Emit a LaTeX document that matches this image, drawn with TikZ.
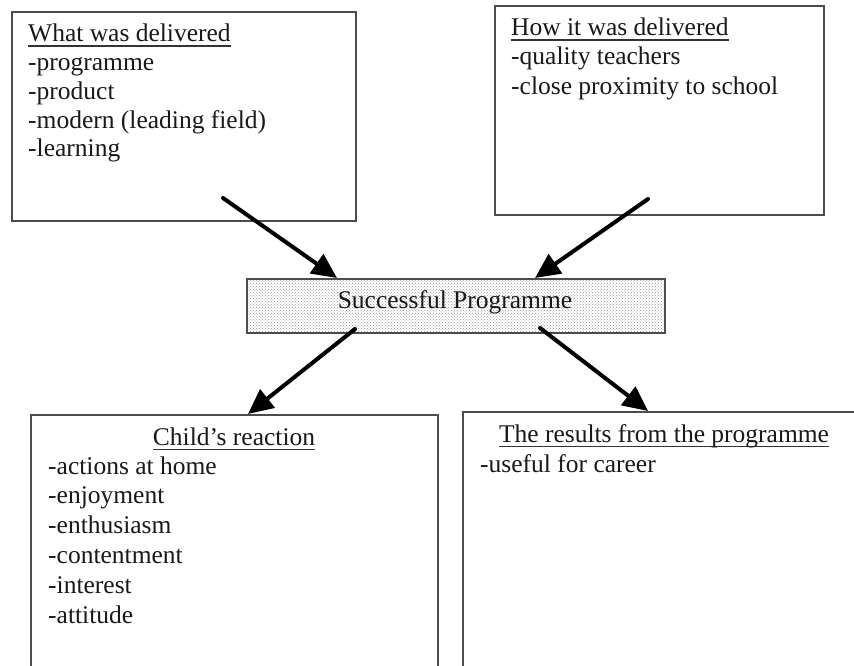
\documentclass[tikz,border=0pt]{standalone}
\usepackage{fontspec}
\setmainfont{Liberation Serif}
\usetikzlibrary{arrows.meta,patterns,calc}
\newcommand\myul[1]{\setbox0\hbox{#1}\rlap{\color{black!80}\rule[-4.8pt]{\wd0}{1.3pt}}\box0}
\begin{document}
\begin{tikzpicture}[x=1pt,y=-1pt,
  box/.style={draw=black!70, line width=1.6pt, rectangle, inner sep=0pt, anchor=north west},
  txt/.style={anchor=base west, inner sep=0pt, font=\fontsize{25.5}{29}\selectfont, text=black!90},
  ctxt/.style={anchor=base, inner sep=0pt, font=\fontsize{25.5}{29}\selectfont, text=black!90},
  conn/.style={line width=4pt, line cap=round, -{Triangle[length=25pt,width=23pt]}}]
\useasboundingbox (0,0) rectangle (854,666);
\clip (0,0) rectangle (854,666);

% boxes
\node[box, minimum width=344pt, minimum height=209pt] (what) at (11,11) {};
\node[box, minimum width=329pt, minimum height=209pt] (how) at (494,5) {};
\node[box, minimum width=418pt, minimum height=54pt,
      preaction={fill=white}, pattern=crosshatch dots, pattern color=black!40] (succ) at (246,278) {};
\node[box, minimum width=407pt, minimum height=300pt] (child) at (30,414) {};
\node[box, minimum width=440pt, minimum height=300pt] (res) at (462,411) {};

% texts: what was delivered
\node[txt] (w0) at (28,42) {\myul{What was delivered}};
\node[txt] (w1) at (28,71) {-programme};
\node[txt] (w2) at (28,100) {-product};
\node[txt] (w3) at (28,128.5) {-modern (leading field)};
\node[txt] (w4) at (28,157) {-learning};

% how it was delivered
\node[txt] (h0) at (511,36) {\myul{How it was delivered}};
\node[txt] (h1) at (511,65) {-quality teachers};
\node[txt] (h2) at (511,95) {-close proximity to school};

% centre
\node[ctxt] (s0) at (455,308) {Successful Programme};

% child's reaction
\node[ctxt] (c0) at (234,445) {\myul{Child’s reaction}};
\node[txt] (c1) at (48,474) {-actions at home};
\node[txt] (c2) at (48,503.5) {-enjoyment};
\node[txt] (c3) at (48,533) {-enthusiasm};
\node[txt] (c4) at (48,563) {-contentment};
\node[txt] (c5) at (48,593) {-interest};
\node[txt] (c6) at (48,623) {-attitude};

% results
\node[ctxt] (r0) at (664,442) {\myul{The results from the programme}};
\node[txt] (r1) at (480,472) {-useful for career};

% connector end points
\path (what.north west) ++(212,187) coordinate (t1);
\path (succ.north west) ++(91,0) coordinate (e1);
\path (how.north west) ++(154,194) coordinate (t2);
\path (succ.north west) ++(289,0) coordinate (e2);
\path (succ.north west) ++(109,51) coordinate (t3);
\path (child.north west) ++(218,0) coordinate (e3);
\path (succ.north west) ++(294,50) coordinate (t4);
\path (res.north west) ++(186,0) coordinate (e4);

\draw[conn] (t1) -- (e1);
\draw[conn] (t2) -- (e2);
\draw[conn] (t3) -- (e3);
\draw[conn] (t4) -- (e4);
\end{tikzpicture}
\end{document}
